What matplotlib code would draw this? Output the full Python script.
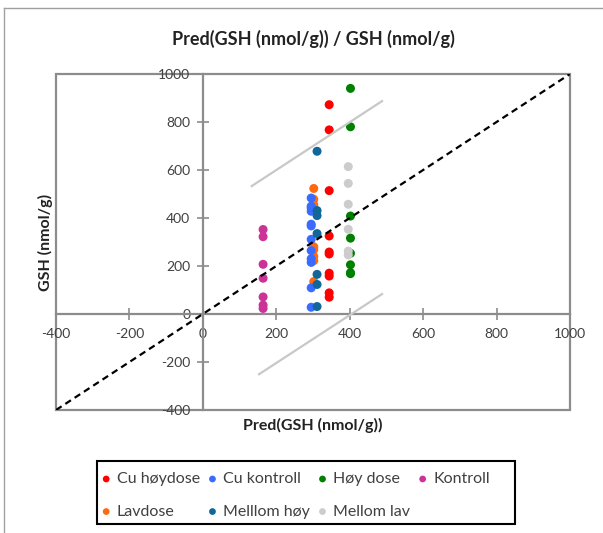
import matplotlib.pyplot as plt
from matplotlib.lines import Line2D
from matplotlib.patches import Rectangle

plt.rcParams['font.family'] = ['Lato', 'DejaVu Sans']
plt.rcParams['axes.unicode_minus'] = False

# Predicted GSH per group (x) and measured GSH (y), nmol/g
groups = ['Cu høydose', 'Cu kontroll', 'Høy dose', 'Kontroll',
          'Lavdose', 'Melllom høy', 'Mellom lav']
colors = ['#ff0000', '#3a6bff', '#008000', '#cc3399',
          '#ff6a10', '#11679a', '#cccccc']
layer = [3, 3.2, 3, 3, 3.1, 3.3, 3.4]

pred = [344, 295, 402, 164, 302, 311, 396]
gsh = [
    [872, 767, 514, 325, 258, 250, 170, 158, 88, 70],
    [483, 449, 441, 428, 374, 367, 311, 264, 230, 215, 109, 28],
    [940, 780, 408, 316, 253, 205, 172, 168],
    [352, 322, 207, 149, 71, 37, 23],
    [523, 478, 455, 280, 268, 240, 222, 135],
    [678, 431, 410, 335, 165, 123, 31],
    [614, 544, 457, 353, 262, 246],
]

# identity line and 95% band
diag_x = [-400, 1000]
diag_y = [-400, 1000]
upper_x = [133, 488]
upper_y = [533, 887]
lower_x = [153, 488]
lower_y = [-251, 83]

axis_grey = '#8c8c8c'
text_grey = '#404040'

fig = plt.figure(figsize=(6.03, 5.33), dpi=100)
ax = fig.add_axes([0.0929, 0.2308, 0.8524, 0.6304])

handles = []
for name, c, z, px, ys in zip(groups, colors, layer, pred, gsh):
    h = ax.scatter([px] * len(ys), ys, s=42, color=c, label=name,
                   edgecolors='none', zorder=z)
    handles.append(h)

ax.plot(diag_x, diag_y, color='black', lw=1.6, ls=(0, (3, 2)), zorder=4)
ax.plot(upper_x, upper_y, color='#c8c8c8', lw=1.6, zorder=4)
ax.plot(lower_x, lower_y, color='#c8c8c8', lw=1.6, zorder=4)

ax.set_xlim(-400, 1000)
ax.set_ylim(-400, 1000)
ax.set_xticks(range(-400, 1001, 200))
ax.set_yticks(range(-400, 1001, 200))

# axes cross at the origin, plot area framed in grey
ax.spines['left'].set_position(('data', 0))
ax.spines['bottom'].set_position(('data', 0))
for s in ['top', 'right']:
    ax.spines[s].set_visible(False)
for s in ['left', 'bottom']:
    ax.spines[s].set_color(axis_grey)
    ax.spines[s].set_linewidth(1.6)
ax.add_patch(Rectangle((0, 0), 1, 1, transform=ax.transAxes, fill=False,
                       ec=axis_grey, lw=1.6, clip_on=False, zorder=1))
ax.tick_params(direction='inout', length=8, width=1.2, color=axis_grey,
               labelsize=10, labelcolor=text_grey)
ax.tick_params(axis='x', pad=6)
ax.tick_params(axis='y', pad=5)

ax.set_title('Pred(GSH (nmol/g)) / GSH (nmol/g)', fontsize=13,
             fontweight='bold', color='#222222', pad=21)
ax.set_xlabel('Pred(GSH (nmol/g))', fontsize=11.5, fontweight='bold',
              color='#222222')
ax.set_ylabel('GSH (nmol/g)', fontsize=11.5, fontweight='bold',
              color='#222222')
ax.xaxis.set_label_coords(0.5, -0.025)
ax.yaxis.set_label_coords(-0.006, 0.5)

# legend filled row by row: 4 entries on top, 3 below, boxed separately
order = [0, 4, 1, 5, 2, 6, 3]
leg = fig.legend([handles[i] for i in order], [groups[i] for i in order],
                 loc='upper left', ncol=4, frameon=False,
                 bbox_to_anchor=(99 / 603, 1 - 472 / 533),
                 borderaxespad=0, borderpad=0, fontsize=11.5,
                 markerscale=0.75, handletextpad=0.2, columnspacing=0.35,
                 labelspacing=1.15, handlelength=0.9)
for t in leg.get_texts():
    t.set_color(text_grey)
fig.add_artist(Rectangle((97 / 603, 1 - 524 / 533), 418 / 603, 63 / 533,
                         transform=fig.transFigure, fill=False,
                         ec='black', lw=1.5))

# outer chart border
fig.add_artist(Line2D([4 / 603, 4 / 603], [0, 1 - 8 / 533],
                      transform=fig.transFigure, color='#a0a0a0', lw=1))
fig.add_artist(Line2D([4 / 603, 1], [1 - 8 / 533, 1 - 8 / 533],
                      transform=fig.transFigure, color='#a0a0a0', lw=1))

fig.savefig('out.png', dpi=100)
